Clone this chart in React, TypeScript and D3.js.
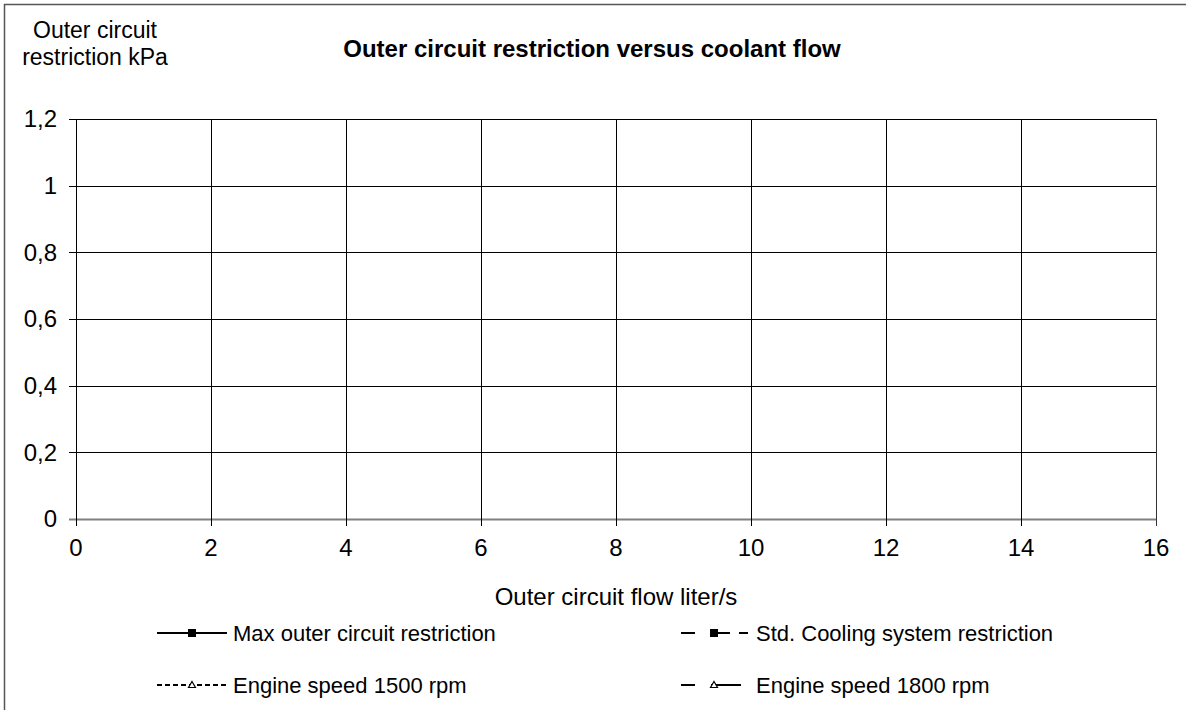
import React from "react";
import * as d3 from "d3";

const title = "Outer circuit restriction versus coolant flow";
const yTitleLines = ["Outer circuit", "restriction kPa"];
const xTitle = "Outer circuit flow liter/s";
const xTicks = [0, 2, 4, 6, 8, 10, 12, 14, 16];
const yTicks = [0, 0.2, 0.4, 0.6, 0.8, 1, 1.2];
const seriesNames = [
  "Max outer circuit restriction",
  "Std. Cooling system restriction",
  "Engine speed 1500 rpm",
  "Engine speed 1800 rpm",
];
// The reference shows no plotted points for any series.
const maxRestriction: [number, number][] = [];
const stdRestriction: [number, number][] = [];
const speed1500: [number, number][] = [];
const speed1800: [number, number][] = [];

const W = 1186;
const H = 710;
const M = { left: 76, right: 1156, top: 119, bottom: 519 };
const FONT = "'Liberation Sans', Arial, sans-serif";

export default function App() {
  const x = d3.scaleLinear().domain([0, 16]).range([M.left, M.right]);
  const y = d3.scaleLinear().domain([0, 1.2]).range([M.bottom, M.top]);
  const fmt = (v: number) => d3.format("~g")(+v.toFixed(2)).replace(".", ",");
  const line = d3
    .line<[number, number]>()
    .x((d) => x(d[0]))
    .y((d) => y(d[1]));

  const legendRows = [
    { x0: 157, y0: 633, name: seriesNames[0], dash: "none", marker: "square" },
    { x0: 681, y0: 633, name: seriesNames[1], dash: "14,15,20,9,9", marker: "square" },
    { x0: 157, y0: 685, name: seriesNames[2], dash: "5,3", marker: "triangle" },
    { x0: 681, y0: 685, name: seriesNames[3], dash: "14,16,30", marker: "triangle" },
  ];

  return (
    <svg
      width={W}
      height={H}
      style={{ position: "absolute", left: 0, top: 0, background: "#fff" }}
      fontFamily={FONT}
    >
      <rect x={0} y={0} width={W} height={H} fill="#fff" />
      <path d={`M4.5,${H + 5} V4.5 H${W + 5}`} fill="none" stroke="#555" strokeWidth={1.5} />

      {/* grid */}
      {yTicks.map((t) => (
        <line
          key={"gy" + t}
          x1={M.left - 7}
          x2={M.right}
          y1={Math.round(y(t)) + 0.5}
          y2={Math.round(y(t)) + 0.5}
          stroke={t === 0 ? "#808080" : "#000"}
          strokeWidth={t === 0 ? 2 : 1}
        />
      ))}
      {xTicks.map((t) => (
        <line
          key={"gx" + t}
          x1={Math.round(x(t)) + 0.5}
          x2={Math.round(x(t)) + 0.5}
          y1={M.top}
          y2={M.bottom + 7}
          stroke={t === 16 ? "#333" : "#000"}
          strokeWidth={1}
        />
      ))}

      {/* series (none plotted in reference) */}
      {[maxRestriction, stdRestriction, speed1500, speed1800].map((s, i) =>
        s.length ? (
          <path key={"s" + i} d={line(s) || ""} fill="none" stroke="#000" strokeDasharray={legendRows[i].dash} />
        ) : null
      )}

      {/* y tick labels */}
      {yTicks.map((t) => (
        <text key={"ly" + t} x={57} y={y(t)} dy="0.35em" textAnchor="end" fontSize={24} fill="#000">
          {fmt(t)}
        </text>
      ))}
      {/* x tick labels */}
      {xTicks.map((t) => (
        <text key={"lx" + t} x={x(t)} y={556} textAnchor="middle" fontSize={24} fill="#000">
          {fmt(t)}
        </text>
      ))}

      <text x={592} y={57} textAnchor="middle" fontSize={24} fontWeight="bold" fill="#000">
        {title}
      </text>
      {yTitleLines.map((l, i) => (
        <text key={l} x={95} y={38 + i * 27} textAnchor="middle" fontSize={23} fill="#000">
          {l}
        </text>
      ))}
      <text x={616} y={605} textAnchor="middle" fontSize={24} fill="#000">
        {xTitle}
      </text>

      {/* legend */}
      {legendRows.map((r, i) => {
        const x1 = i % 2 === 0 ? r.x0 + 70 : r.x0 + 67;
        const cx = i % 2 === 0 ? 192 : 714;
        return (
          <g key={"lg" + i}>
            <line x1={r.x0} x2={x1} y1={r.y0} y2={r.y0} stroke="#000" strokeWidth={2} strokeDasharray={r.dash} />
            {r.marker === "square" ? (
              <rect x={cx - 4} y={r.y0 - 4} width={8} height={8} fill="#000" />
            ) : (
              <path
                d={`M${cx},${r.y0 - 3.5} L${cx + 3.5},${r.y0 + 2.5} L${cx - 3.5},${r.y0 + 2.5} Z`}
                fill="#fff"
                stroke="#000"
                strokeWidth={1.2}
              />
            )}
            <text x={i % 2 === 0 ? 233 : 756} y={r.y0} dy="0.35em" fontSize={22} fill="#000">
              {r.name}
            </text>
          </g>
        );
      })}
    </svg>
  );
}
